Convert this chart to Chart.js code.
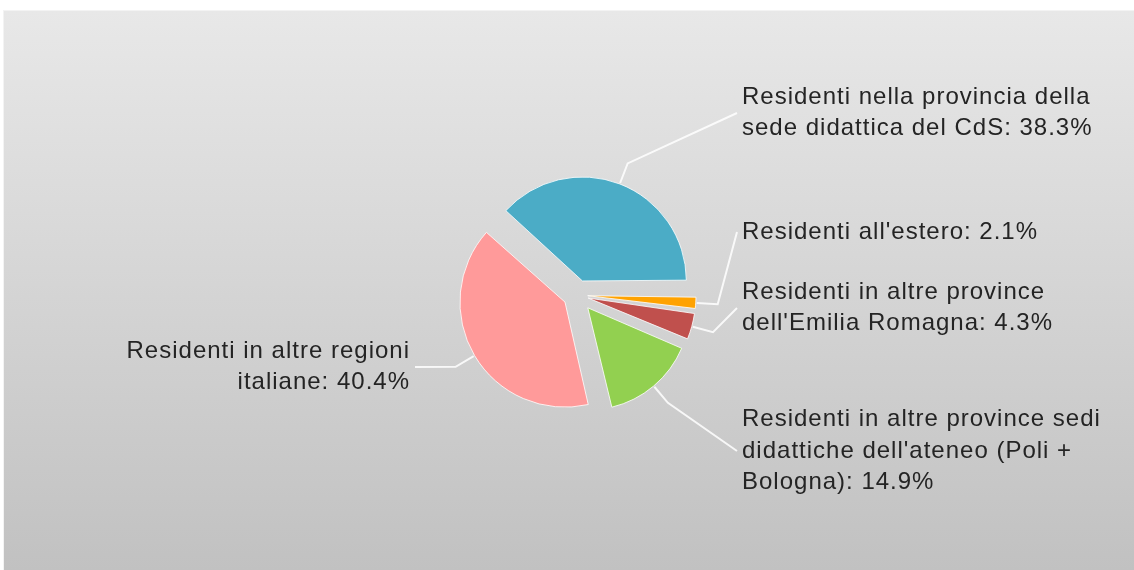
<!DOCTYPE html>
<html>
<head>
<meta charset="utf-8">
<script src="https://cdn.jsdelivr.net/npm/chart.js@4.4.1/dist/chart.umd.min.js"></script>
<style>
html, body { margin: 0; padding: 0; background: #fff; }
#wrap { position: relative; width: 1134px; height: 570px; overflow: hidden; }
#panel { position: absolute; left: 3px; top: 10px; right: 0; bottom: 0;
  background: linear-gradient(#e8e8e8, #c1c1c1);
  border-left: 1px solid #f3f3f3; border-top: 1px solid #f3f3f3; }
canvas { position: absolute; left: 0; top: 0; }
</style>
</head>
<body>
<div id="wrap">
  <div id="panel"></div>
  <canvas id="pieChart" width="1134" height="570"></canvas>
</div>
<script>
// dati (ordine orario a partire dalle ore 3)
const categorie = [
    "Residenti all'estero",
    "Residenti in altre province dell'Emilia Romagna",
    "Residenti in altre province sedi didattiche dell'ateneo (Poli + Bologna)",
    "Residenti in altre regioni italiane",
    "Residenti nella provincia della sede didattica del CdS"
];
const percentuali = [2.1, 4.3, 14.9, 40.4, 38.3];
const colori = ['#ffa200', '#c0504d', '#92d050', '#ff9a9a', '#4bacc6'];

// posizione verticale del centro di ogni etichetta
const etichetteY = [232, 308, 451, 367, 113];

const SCOSTAMENTO = 20;   // distanza di esplosione delle fette (px)
const totale = percentuali.reduce((a, b) => a + b, 0);

// Chart.js trasla la fetta di offset/4 * (2 - sin(circ)): lo invertiamo
function offsetFetta(ctx) {
    const circ = percentuali[ctx.dataIndex] / totale * Math.PI * 2;
    return 4 * SCOSTAMENTO / (2 - Math.sin(Math.min(Math.PI, circ)));
}

function spezzaTesto(ctx, testo, maxW) {
    const parole = testo.split(' ');
    const righe = [];
    let riga = '';
    parole.forEach(p => {
        const prova = riga ? riga + ' ' + p : p;
        if (riga && ctx.measureText(prova).width > maxW) {
            righe.push(riga);
            riga = p;
        } else {
            riga = prova;
        }
    });
    if (riga) righe.push(riga);
    return righe;
}

const etichettePlugin = {
    id: 'etichette',
    afterDatasetsDraw(chart) {
        const ctx = chart.ctx;
        const meta = chart.getDatasetMeta(0);
        ctx.save();
        ctx.font = '24px "Liberation Sans", Arial, sans-serif';
        ctx.letterSpacing = '1px';
        ctx.textBaseline = 'middle';
        meta.data.forEach((arc, i) => {
            const p = arc.getProps(['x', 'y', 'startAngle', 'endAngle', 'outerRadius'], true);
            const h = (p.startAngle + p.endAngle) / 2;
            const c = Math.cos(h), s = Math.sin(h);
            const r0 = SCOSTAMENTO + p.outerRadius + 1;
            const r1 = r0 + 21;
            const destra = c >= 0;
            const ty = etichetteY[i];
            const fineX = destra ? 737 : 415;

            // linea guida
            ctx.strokeStyle = 'rgba(255,255,255,0.85)';
            ctx.lineWidth = 2;
            ctx.beginPath();
            ctx.moveTo(p.x + c * r0, p.y + s * r0);
            ctx.lineTo(p.x + c * r1, p.y + s * r1);
            ctx.lineTo(fineX, ty);
            ctx.stroke();

            // testo
            const testo = categorie[i] + ': ' + percentuali[i].toFixed(1) + '%';
            const righe = spezzaTesto(ctx, testo, 372);
            const lh = 31.5;
            ctx.fillStyle = '#242424';
            ctx.textAlign = destra ? 'left' : 'right';
            righe.forEach((r, k) => {
                const y = ty + (k - (righe.length - 1) / 2) * lh;
                ctx.fillText(r, destra ? 742 : 410, y);
            });
        });
        ctx.restore();
    }
};

const myChart = new Chart(document.getElementById('pieChart').getContext('2d'), {
    type: 'pie',
    data: {
        labels: categorie,
        datasets: [{
            data: percentuali,
            backgroundColor: colori,
            borderColor: 'rgba(255,255,255,0.8)',
            borderWidth: 1,
            offset: offsetFetta,
            hoverOffset: 0
        }]
    },
    options: {
        responsive: false,
        animation: false,
        rotation: 90,
        radius: 99,
        layout: { padding: { left: 20, top: 20, right: 0, bottom: 0 } },
        plugins: { legend: { display: false }, tooltip: { enabled: false } }
    },
    plugins: [etichettePlugin]
});
</script>
</body>
</html>
